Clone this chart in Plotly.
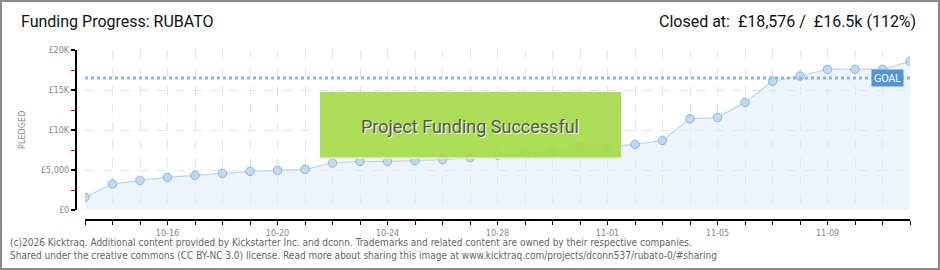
import plotly.graph_objects as go

# ---- data ----
dates = [
    "2025-10-13", "2025-10-14", "2025-10-15", "2025-10-16", "2025-10-17", "2025-10-18",
    "2025-10-19", "2025-10-20", "2025-10-21", "2025-10-22", "2025-10-23", "2025-10-24",
    "2025-10-25", "2025-10-26", "2025-10-27", "2025-10-28", "2025-10-29", "2025-10-30",
    "2025-10-31", "2025-11-01", "2025-11-02", "2025-11-03", "2025-11-04", "2025-11-05",
    "2025-11-06", "2025-11-07", "2025-11-08", "2025-11-09", "2025-11-10", "2025-11-11",
    "2025-11-12",
]
pledged = [
    1590, 3250, 3700, 4080, 4330, 4580, 4830, 4950, 5080, 5880, 6080, 6080,
    6170, 6300, 6550, 6880, 7000, 7300, 7880, 7880, 8200, 8700, 11400, 11580,
    13450, 16100, 16750, 17580, 17580, 17580, 18576,
]
goal = 16500
x_labels = ["", "", "", "10-16", "", "", "", "10-20", "", "", "", "10-24", "", "", "",
            "10-28", "", "", "", "11-01", "", "", "", "11-05", "", "", "", "11-09", "", "", ""]
y_tickvals = [0, 5000, 10000, 15000, 20000]
y_ticktext = ["£0", "£5,000", "£10K", "£15K", "£20K"]

# ---- layout helpers (pixels -> paper) ----
L, R, T, B = 76, 910, 50, 220
PW, PH = R - L, B - T
def xp(p):
    return (p - L) / PW
def yp(p):
    return (B - p) / PH

TITLE = "Roboto, DejaVu Sans Condensed, sans-serif"
SMALL = "DejaVu Sans Condensed, DejaVu Sans, sans-serif"

fig = go.Figure()

fig.add_trace(go.Scatter(
    x=dates, y=pledged, mode="lines+markers",
    line=dict(color="#b9d6f2", width=1.2),
    fill="tozeroy", fillcolor="rgba(222,235,250,0.55)",
    marker=dict(size=8.5, color="#bdd9f6", line=dict(color="#93b3d6", width=1)),
    hoverinfo="skip", showlegend=False,
))

fig.add_trace(go.Scatter(
    x=[dates[0], dates[-1]], y=[goal, goal], mode="lines",
    line=dict(color="#8db5e3", width=3, dash="dot"),
    hoverinfo="skip", showlegend=False,
))

fig.update_layout(
    width=940, height=270,
    margin=dict(l=L, r=940 - R, t=T, b=270 - B),
    paper_bgcolor="white", plot_bgcolor="white",
    xaxis=dict(
        domain=[xp(85), 1], anchor="free", position=0,
        type="date", range=[dates[0], dates[-1]],
        tickvals=dates, ticktext=x_labels,
        showline=True, linecolor="black", linewidth=2,
        ticks="outside", ticklen=4, tickcolor="black", tickwidth=1,
        showgrid=True, gridcolor="#e3e3e3", griddash="dash", gridwidth=1,
        tickfont=dict(family=SMALL, size=9, color="#888"),
        zeroline=False, fixedrange=True,
    ),
    yaxis=dict(
        domain=[yp(210), 1], anchor="free", position=0,
        range=[0, 20000],
        tickvals=y_tickvals, ticktext=y_ticktext,
        showline=True, linecolor="black", linewidth=2,
        ticks="outside", ticklen=4, tickcolor="black", tickwidth=2,
        minor=dict(dtick=2500, tick0=0, ticks="outside", ticklen=4,
                   tickcolor="red", tickwidth=1, showgrid=False),
        showgrid=True, gridcolor="#e3e3e3", griddash="dash", gridwidth=1,
        tickfont=dict(family=SMALL, size=9, color="#888"),
        zeroline=False, fixedrange=True,
    ),
    shapes=[
        # outer frame
        dict(type="rect", xref="paper", yref="paper",
             x0=xp(1), x1=xp(939), y0=yp(1), y1=yp(269),
             line=dict(color="#8a8a8a", width=2), fillcolor="rgba(0,0,0,0)", layer="above"),
        # success box
        dict(type="rect", xref="paper", yref="paper",
             x0=xp(320), x1=xp(621), y0=yp(92), y1=yp(158),
             line=dict(width=0), fillcolor="rgba(164,218,72,0.92)", layer="above"),
        dict(type="line", xref="paper", yref="paper",
             x0=xp(320), x1=xp(621), y0=yp(158), y1=yp(158),
             line=dict(color="#e6f0b0", width=1.5), layer="above"),
    ],
    annotations=[
        dict(text="Funding Progress: RUBATO", xref="paper", yref="paper",
             x=xp(19), y=yp(22), xanchor="left", yanchor="middle", showarrow=False,
             font=dict(family=TITLE, size=16, color="#111")),
        dict(text="Closed at:  £18,576 /  £16.5k (112%)", xref="paper", yref="paper",
             x=xp(918), y=yp(22), xanchor="right", yanchor="middle", showarrow=False,
             font=dict(family=TITLE, size=16, color="#111")),
        dict(text="PLEDGED", xref="paper", yref="paper", textangle=-90,
             x=xp(22), y=yp(130), xanchor="center", yanchor="middle", showarrow=False,
             font=dict(family=SMALL, size=9, color="#888")),
        dict(text="Project Funding Successful", xref="paper", yref="paper",
             x=xp(470), y=yp(126), xanchor="center", yanchor="middle", showarrow=False,
             font=dict(family=TITLE, size=18, color="#555",
                       shadow="1px 1px 0px #ffffff")),
        dict(text="GOAL", xref="paper", yref="paper",
             x=xp(887), y=yp(78), xanchor="center", yanchor="middle", showarrow=False,
             bgcolor="#4f93dc", borderpad=2,
             font=dict(family=SMALL, size=10.5, color="white")),
        dict(text="(c)2026 Kicktraq. Additional content provided by Kickstarter Inc. and dconn. "
                  "Trademarks and related content are owned by their respective companies.",
             xref="paper", yref="paper", x=xp(8), y=yp(242), xanchor="left", yanchor="middle",
             showarrow=False, font=dict(family=SMALL, size=10, color="#666")),
        dict(text="Shared under the creative commons (CC BY-NC 3.0) license. Read more about sharing "
                  "this image at www.kicktraq.com/projects/dconn537/rubato-0/#sharing",
             xref="paper", yref="paper", x=xp(8), y=yp(256), xanchor="left", yanchor="middle",
             showarrow=False, font=dict(family=SMALL, size=10, color="#666")),
    ],
)

fig.write_html("out.html", config={"displayModeBar": False})
